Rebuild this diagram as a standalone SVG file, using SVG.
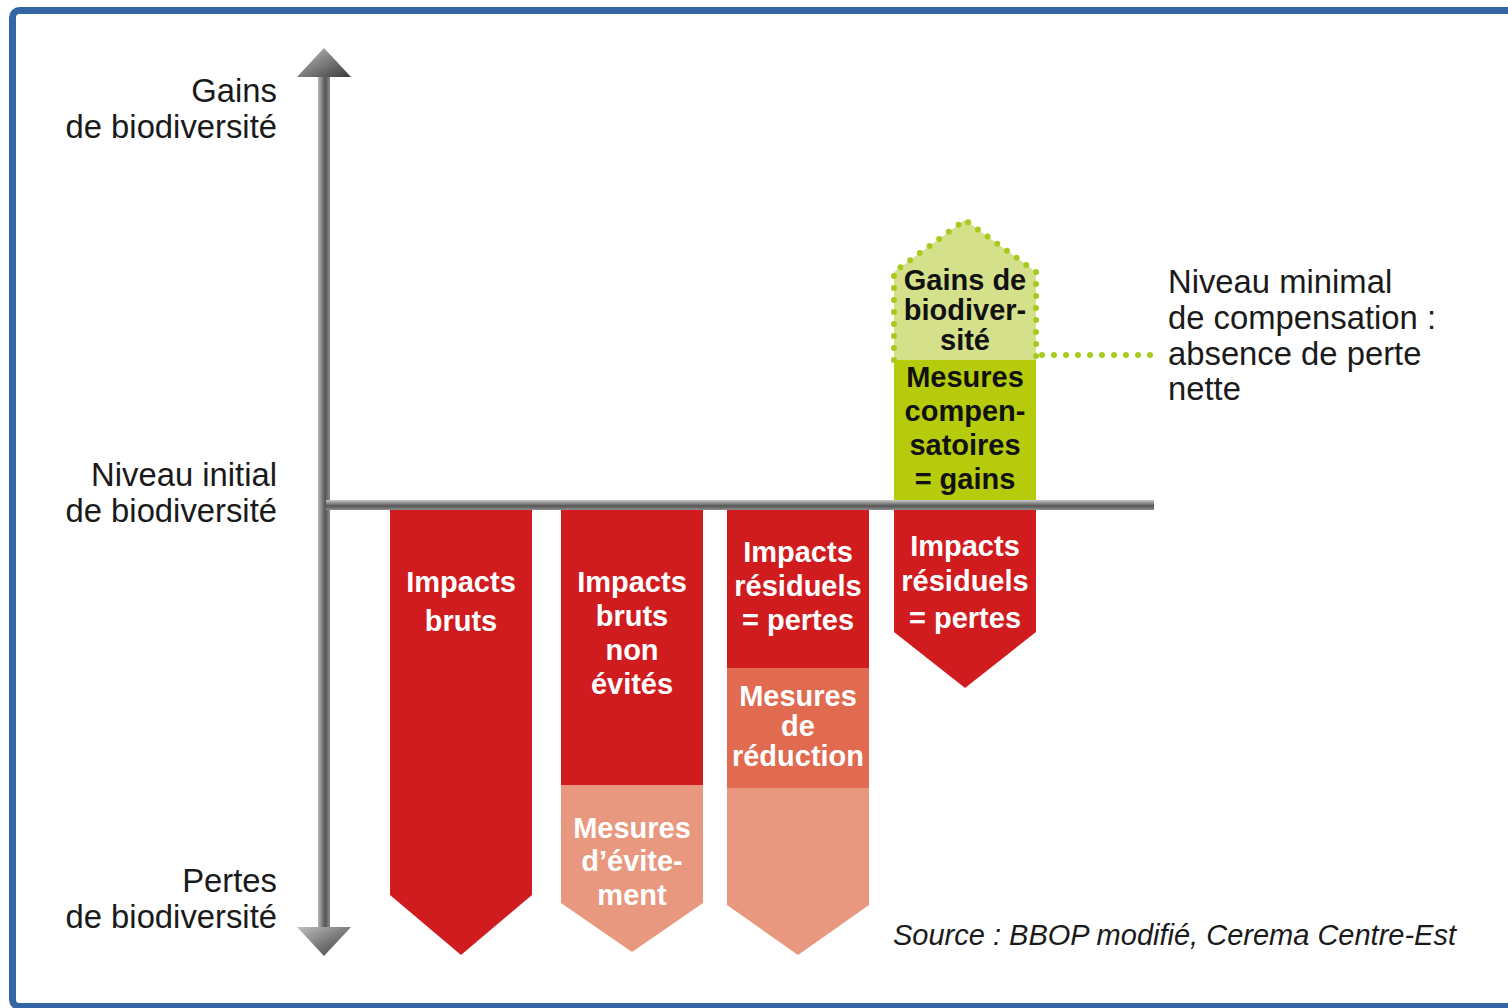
<svg xmlns="http://www.w3.org/2000/svg" width="1508" height="1008" viewBox="0 0 1508 1008">
<defs>
<style>
.lbl{font-family:"Liberation Sans",Arial,sans-serif;font-size:32.8px;fill:#1a1a1a}
.w{font-family:"Liberation Sans",Arial,sans-serif;font-size:29px;font-weight:bold;fill:#ffffff;text-anchor:middle}
.k{font-family:"Liberation Sans",Arial,sans-serif;font-size:29px;font-weight:bold;fill:#111111;text-anchor:middle}
.red{fill:#d11c1f}
.sal{fill:#e8987e}
.mid{fill:#e06b50}
.dots{fill:none;stroke:#a6cb1c;stroke-width:6;stroke-linecap:round;stroke-dasharray:0 12}
</style>
<linearGradient id="gv" x1="0" y1="0" x2="1" y2="0">
<stop offset="0" stop-color="#b8b8b8"/><stop offset="0.6" stop-color="#555"/><stop offset="1" stop-color="#8a8a8a"/>
</linearGradient>
<linearGradient id="gh" x1="0" y1="0" x2="0" y2="1">
<stop offset="0" stop-color="#c8c8c8"/><stop offset="0.6" stop-color="#555"/><stop offset="1" stop-color="#909090"/>
</linearGradient>
<linearGradient id="ga" x1="0" y1="0" x2="1" y2="1">
<stop offset="0" stop-color="#c0c0c0"/><stop offset="1" stop-color="#3a3a3a"/>
</linearGradient>
</defs>
<rect x="0" y="0" width="1508" height="1008" fill="#ffffff"/>
<rect x="12.5" y="10.5" width="1520" height="996" rx="7" fill="none" stroke="#3465a5" stroke-width="7"/>

<g id="axes">
<rect x="318" y="74" width="12" height="856" fill="url(#gv)"/>
<polygon points="297,77 351,77 324,48" fill="url(#ga)"/>
<polygon points="297,927 351,927 324,956" fill="url(#ga)"/>
</g>

<g id="col1">
<polygon class="red" points="390,510 532,510 532,895 461,955 390,895"/>
<text class="w" x="461" y="592">Impacts</text>
<text class="w" x="461" y="631">bruts</text>
</g>

<g id="col2">
<polygon class="sal" points="561,785 703,785 703,903 632,952 561,903"/>
<rect class="red" x="561" y="510" width="142" height="275"/>
<text class="w" x="632" y="592">Impacts</text>
<text class="w" x="632" y="626">bruts</text>
<text class="w" x="632" y="660">non</text>
<text class="w" x="632" y="694">évités</text>
<text class="w" x="632" y="838">Mesures</text>
<text class="w" x="632" y="871">d’évite-</text>
<text class="w" x="632" y="905">ment</text>
</g>

<g id="col3">
<polygon class="sal" points="727,788 869,788 869,905 798,955 727,905"/>
<rect class="mid" x="727" y="668" width="142" height="120"/>
<rect class="red" x="727" y="510" width="142" height="158"/>
<text class="w" x="798" y="562">Impacts</text>
<text class="w" x="798" y="596">résiduels</text>
<text class="w" x="798" y="630">= pertes</text>
<text class="w" x="798" y="706">Mesures</text>
<text class="w" x="798" y="736">de</text>
<text class="w" x="798" y="766">réduction</text>
</g>

<g id="col4">
<polygon class="red" points="894,510 1036,510 1036,632 965,688 894,632"/>
<text class="w" x="965" y="556">Impacts</text>
<text class="w" x="965" y="591">résiduels</text>
<text class="w" x="965" y="628">= pertes</text>
</g>

<g id="gains">
<polygon points="894,272 965,220 1036,272 1036,360 894,360" fill="#d5e08b"/>
<rect x="894" y="360" width="142" height="141" fill="#b5cb0c"/>
<polyline class="dots" points="894,360 894,272 965,220 1036,272 1036,360"/>
<text class="k" x="965" y="290">Gains de</text>
<text class="k" x="965" y="320">biodiver-</text>
<text class="k" x="965" y="350">sité</text>
<text class="k" x="965" y="387">Mesures</text>
<text class="k" x="965" y="421">compen-</text>
<text class="k" x="965" y="455">satoires</text>
<text class="k" x="965" y="489">= gains</text>
</g>

<g id="baseline">
<rect x="326" y="500" width="828" height="10" fill="url(#gh)"/>
</g>

<g id="connectors">
<line class="dots" x1="1042" y1="355" x2="1158" y2="355"/>
</g>

<g id="labels">
<text class="lbl" x="277" y="102" text-anchor="end">Gains</text>
<text class="lbl" x="277" y="138" text-anchor="end">de biodiversité</text>
<text class="lbl" x="277" y="486" text-anchor="end">Niveau initial</text>
<text class="lbl" x="277" y="522" text-anchor="end">de biodiversité</text>
<text class="lbl" x="277" y="892" text-anchor="end">Pertes</text>
<text class="lbl" x="277" y="928" text-anchor="end">de biodiversité</text>
<text class="lbl" x="1168" y="293">Niveau minimal</text>
<text class="lbl" x="1168" y="329">de compensation :</text>
<text class="lbl" x="1168" y="365">absence de perte</text>
<text class="lbl" x="1168" y="400">nette</text>
<text x="893" y="945" style="font-family:'Liberation Sans',Arial,sans-serif;font-size:29px;font-style:italic;fill:#1a1a1a">Source : BBOP modifié, Cerema Centre-Est</text>
</g>
</svg>
